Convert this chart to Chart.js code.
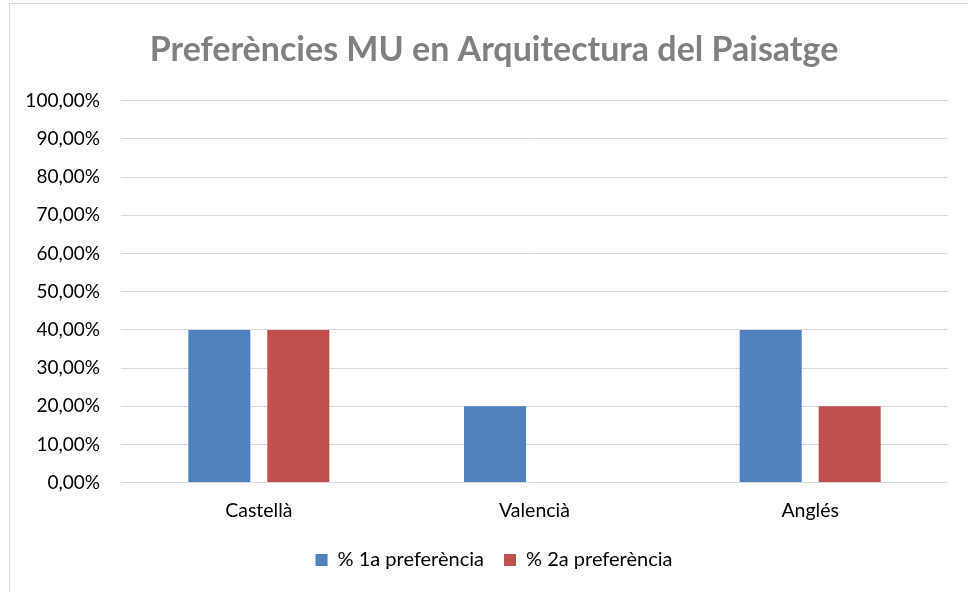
<!DOCTYPE html>
<html>
<head>
<meta charset="utf-8">
<script src="https://cdn.jsdelivr.net/npm/chart.js@4"></script>
<style>
  html, body { margin: 0; padding: 0; background: #fff; }
  #wrap { position: relative; width: 968px; height: 592px; }
  #frame { position: absolute; left: 9px; top: 3px; width: 980px; height: 620px; border: 1px solid #d9d9d9; }
  canvas { position: absolute; left: 0; top: 0; }
</style>
</head>
<body>
<div id="wrap">
  <div id="frame"></div>
  <canvas id="chart" width="968" height="592"></canvas>
</div>
<script>
const categories = ['Castellà', 'Valencià', 'Anglés'];
const firstPref = [40, 20, 40];
const secondPref = [40, 0, 20];
const seriesNames = ['% 1a preferència', '% 2a preferència'];
const yTickLabels = ['0,00%', '10,00%', '20,00%', '30,00%', '40,00%', '50,00%',
  '60,00%', '70,00%', '80,00%', '90,00%', '100,00%'];

const font = 'Lato, "Open Sans", sans-serif';

new Chart(document.getElementById('chart'), {
  type: 'bar',
  data: {
    labels: categories,
    datasets: [
      { label: seriesNames[0], data: firstPref, backgroundColor: '#4f81bd',
        barPercentage: 0.785, categoryPercentage: 0.573 },
      { label: seriesNames[1], data: secondPref, backgroundColor: '#c0504d',
        barPercentage: 0.785, categoryPercentage: 0.573 }
    ]
  },
  options: {
    responsive: false,
    animation: false,
    layout: { padding: { left: 27, right: 7, top: 22, bottom: 12 } },
    scales: {
      x: {
        grid: { display: false },
        border: { display: false },
        ticks: { color: '#000', font: { family: font, size: 19.5 }, padding: 8 }
      },
      y: {
        min: 0,
        max: 100,
        afterFit: (scale) => { scale.width = 94; },
        ticks: {
          stepSize: 10,
          color: '#000',
          padding: 21,
          font: { family: font, size: 19 },
          callback: (v) => yTickLabels[Math.round(v / 10)]
        },
        grid: { color: '#d9d9d9', lineWidth: 1, drawTicks: false },
        border: { display: false }
      },
      // empty right axis, only to keep the plot right edge where the original has it
      yRight: {
        type: 'linear',
        position: 'right',
        afterFit: (scale) => { scale.width = 13; },
        ticks: { display: false },
        grid: { display: false },
        border: { display: false }
      }
    },
    plugins: {
      title: {
        display: true,
        text: 'Preferències MU en Arquitectura del Paisatge',
        color: '#808080',
        font: { family: font, size: 34, weight: 'bold' },
        padding: { top: 8, bottom: 30 }
      },
      legend: {
        position: 'bottom',
        labels: {
          color: '#000',
          font: { family: font, size: 20 },
          boxWidth: 12,
          boxHeight: 12,
          padding: 20
        }
      },
      tooltip: { enabled: false }
    }
  }
});
</script>
</body>
</html>
